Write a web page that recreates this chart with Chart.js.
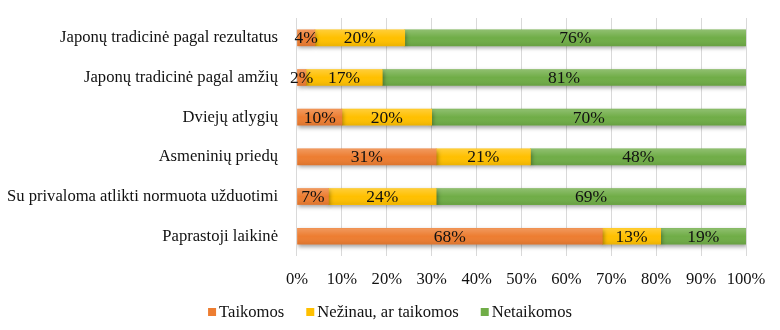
<!DOCTYPE html>
<html>
<head>
<meta charset="utf-8">
<script src="https://cdn.jsdelivr.net/npm/chart.js@4"></script>
<style>
  html, body { margin: 0; padding: 0; background: #fff; }
  #wrap { width: 780px; height: 330px; }
</style>
</head>
<body>
<div id="wrap"><canvas id="chart" width="780" height="330"></canvas></div>
<script>
const categories = [
    'Japonų tradicinė pagal rezultatus',
    'Japonų tradicinė pagal amžių',
    'Dviejų atlygių',
    'Asmeninių priedų',
    'Su privaloma atlikti normuota užduotimi',
    'Paprastoji laikinė'
];
const taikomos = [4, 2, 10, 31, 7, 68];
const nezinau = [20, 17, 20, 21, 24, 13];
const netaikomos = [76, 81, 70, 48, 69, 19];
const xTicks = [0, 10, 20, 30, 40, 50, 60, 70, 80, 90, 100];

const font = 'Liberation Serif, Times New Roman, serif';
const fontSize = 16.6;

// soft drop shadow under every bar
const barShadow = {
    id: 'barShadow',
    beforeDatasetsDraw(chart) {
        const ctx = chart.ctx;
        ctx.save();
        ctx.shadowColor = 'rgba(0,0,0,0.35)';
        ctx.shadowBlur = 4;
        ctx.shadowOffsetX = 1;
        ctx.shadowOffsetY = 2;
    },
    afterDatasetsDraw(chart) {
        chart.ctx.restore();
    }
};

// light sheen on the top half of each bar, then the percentage in the middle
const segmentLabels = {
    id: 'segmentLabels',
    afterDatasetsDraw(chart) {
        const ctx = chart.ctx;
        ctx.save();
        chart.data.datasets.forEach((ds, i) => {
            chart.getDatasetMeta(i).data.forEach(bar => {
                const h = bar.height;
                const top = bar.y - h / 2;
                const g = ctx.createLinearGradient(0, top, 0, top + h);
                g.addColorStop(0, 'rgba(255,255,255,0.22)');
                g.addColorStop(0.5, 'rgba(255,255,255,0)');
                g.addColorStop(1, 'rgba(0,0,0,0.08)');
                ctx.fillStyle = g;
                ctx.fillRect(Math.min(bar.base, bar.x), top, Math.abs(bar.x - bar.base), h);
            });
        });
        ctx.font = '17.5px ' + font;
        ctx.fillStyle = '#111';
        ctx.textAlign = 'center';
        ctx.textBaseline = 'middle';
        chart.data.datasets.forEach((ds, i) => {
            chart.getDatasetMeta(i).data.forEach((bar, j) => {
                const mid = (bar.x + bar.base) / 2;
                ctx.fillText(ds.data[j] + '%', mid, bar.y + 1);
            });
        });
        ctx.restore();
    }
};

// legend drawn by hand: small square, short gap, label
const bottomLegend = {
    id: 'bottomLegend',
    afterDraw(chart) {
        const ctx = chart.ctx;
        const items = chart.data.datasets;
        const box = 8, gap = 3, space = 22;
        ctx.save();
        ctx.font = fontSize + 'px ' + font;
        ctx.textBaseline = 'middle';
        const widths = items.map(d => box + gap + ctx.measureText(d.label).width);
        const total = widths.reduce((a, b) => a + b, 0) + space * (items.length - 1);
        let x = (chart.width - total) / 2;
        const y = 312;
        items.forEach((d, i) => {
            ctx.fillStyle = d.backgroundColor;
            ctx.fillRect(x, y - box / 2, box, box);
            ctx.fillStyle = '#111';
            ctx.fillText(d.label, x + box + gap, y + 1);
            x += widths[i] + space;
        });
        ctx.restore();
    }
};

new Chart(document.getElementById('chart'), {
    type: 'bar',
    data: {
        labels: categories,
        datasets: [
            { label: 'Taikomos', data: taikomos, backgroundColor: '#ED7D31' },
            { label: 'Nežinau, ar taikomos', data: nezinau, backgroundColor: '#FFC000' },
            { label: 'Netaikomos', data: netaikomos, backgroundColor: '#70AD47' }
        ]
    },
    options: {
        indexAxis: 'y',
        responsive: false,
        animation: false,
        barThickness: 16,
        layout: { padding: { top: 18, right: 34, bottom: 26, left: -12 } },
        plugins: {
            legend: { display: false },
            tooltip: { enabled: false }
        },
        scales: {
            x: {
                stacked: true,
                min: 0,
                max: 100,
                afterBuildTicks: axis => { axis.ticks = xTicks.map(v => ({ value: v })); },
                grid: { color: '#d9d9d9', drawTicks: false },
                border: { display: false },
                ticks: {
                    padding: 14,
                    maxRotation: 0,
                    autoSkip: false,
                    color: '#111',
                    font: { family: font, size: fontSize },
                    callback: v => v + '%'
                }
            },
            y: {
                stacked: true,
                afterFit: axis => { axis.paddingTop = 0; axis.paddingBottom = 0; },
                grid: { display: false, drawTicks: false },
                border: { display: false },
                ticks: {
                    padding: 19,
                    color: '#111',
                    font: { family: font, size: fontSize }
                }
            }
        }
    },
    plugins: [barShadow, segmentLabels, bottomLegend]
});
</script>
</body>
</html>
